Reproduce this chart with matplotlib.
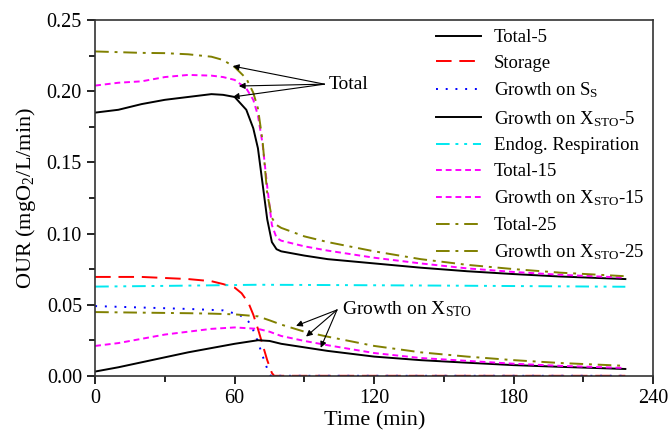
import numpy as np
import matplotlib.pyplot as plt
from matplotlib.ticker import MultipleLocator, FormatStrFormatter

plt.rcParams["font.family"] = ["Liberation Serif", "DejaVu Serif"]
plt.rcParams["mathtext.fontset"] = "custom"
plt.rcParams["mathtext.rm"] = "Liberation Serif"
plt.rcParams["mathtext.it"] = "Liberation Serif:italic"

# time grid for the total curves (min)
t_tot = [0, 10, 20, 30, 40, 50, 55, 60, 65, 68, 70, 72, 74, 76, 78, 80,
         90, 100, 120, 140, 160, 180, 200, 228]
total_5 = [0.185, 0.187, 0.191, 0.194, 0.196, 0.198, 0.1975, 0.196, 0.187,
           0.174, 0.160, 0.135, 0.110, 0.094, 0.089, 0.0875, 0.0845, 0.082,
           0.079, 0.076, 0.0735, 0.0715, 0.0698, 0.068]
total_15 = [0.204, 0.206, 0.207, 0.210, 0.2115, 0.211, 0.210, 0.208, 0.202,
            0.194, 0.183, 0.163, 0.133, 0.106, 0.097, 0.095, 0.091, 0.088,
            0.083, 0.079, 0.0755, 0.073, 0.071, 0.069]
total_25 = [0.228, 0.2275, 0.227, 0.2268, 0.226, 0.2243, 0.222, 0.217, 0.209,
            0.199, 0.188, 0.165, 0.128, 0.111, 0.106, 0.104, 0.098, 0.094,
            0.0875, 0.082, 0.078, 0.075, 0.0725, 0.070]

# growth on X_STO
t_gro = [0, 10, 20, 30, 40, 50, 60, 70, 75, 80, 90, 100, 120, 140, 160, 180,
         200, 228]
gxsto_5 = [0.003, 0.006, 0.0095, 0.013, 0.0165, 0.0195, 0.0225, 0.025,
           0.0245, 0.0225, 0.020, 0.0175, 0.0135, 0.011, 0.0092, 0.0075,
           0.0063, 0.0048]
gxsto_15 = [0.021, 0.023, 0.026, 0.029, 0.031, 0.033, 0.034, 0.033, 0.031,
            0.028, 0.0245, 0.0215, 0.016, 0.0125, 0.0105, 0.0085, 0.007,
            0.0055]
gxsto_25 = [0.0448, 0.0446, 0.0444, 0.0442, 0.044, 0.0437, 0.0432, 0.0418,
            0.039, 0.036, 0.031, 0.0275, 0.021, 0.0165, 0.0135, 0.011, 0.009,
            0.007]

t_sto = [0, 20, 40, 50, 55, 60, 63, 66, 68, 70, 72, 74, 76, 77, 100, 150, 228]
storage = [0.0695, 0.0695, 0.068, 0.0665, 0.0645, 0.062, 0.058, 0.051, 0.043,
           0.033, 0.022, 0.011, 0.002, 0.0, 0.0, 0.0, 0.0]

t_ss = [0, 20, 40, 55, 62, 66, 68, 70, 72, 74, 75.5, 100, 228]
growth_ss = [0.049, 0.048, 0.047, 0.046, 0.043, 0.038, 0.032, 0.024, 0.014,
             0.005, 0.0, 0.0, 0.0]

t_end = [0, 30, 60, 70, 100, 150, 228]
endog = [0.0627, 0.0632, 0.0638, 0.064, 0.0638, 0.0634, 0.0626]

fig = plt.figure(figsize=(6.7, 4.38), dpi=100)
ax = fig.add_axes([0.142, 0.142, 0.833, 0.812])

olive = "#808000"
lw = 1.4
ax.plot(t_tot, total_5, color="black", lw=lw, label="Total-5")
ax.plot(t_sto, storage, color="red", lw=lw, dashes=(8, 4), label="Storage")
ax.plot(t_ss, growth_ss, color="blue", lw=lw, dashes=(1, 4),
        label=r"Growth on S$_\mathrm{S}$")
ax.plot(t_gro, gxsto_5, color="black", lw=lw,
        label=r"Growth on X$_\mathrm{STO}$-5")
ax.plot(t_end, endog, color="#00e8f0", lw=lw, dashes=(7, 3, 1.5, 3, 1.5, 3),
        label="Endog. Respiration")
ax.plot(t_tot, total_15, color="magenta", lw=lw, dashes=(3, 2),
        label="Total-15")
ax.plot(t_gro, gxsto_15, color="magenta", lw=lw, dashes=(3, 2),
        label=r"Growth on X$_\mathrm{STO}$-15")
ax.plot(t_tot, total_25, color=olive, lw=lw, dashes=(7, 3, 1.5, 3),
        label="Total-25")
ax.plot(t_gro, gxsto_25, color=olive, lw=lw, dashes=(7, 3, 1.5, 3),
        label=r"Growth on X$_\mathrm{STO}$-25")

# annotations
arrow = dict(arrowstyle="-|>", color="black", lw=0.8, mutation_scale=9,
             shrinkA=0, shrinkB=0)
for hx, hy in [(59.2, 0.2177), (61.8, 0.2037), (59.2, 0.196)]:
    ax.annotate("", xy=(hx, hy), xytext=(98.6, 0.205), arrowprops=arrow)
ax.text(100.5, 0.205, "Total", fontsize=14, va="center", ha="left")

for hx, hy in [(86.4, 0.0351), (90.7, 0.0276), (97.0, 0.0197)]:
    ax.annotate("", xy=(hx, hy), xytext=(104, 0.0463), arrowprops=arrow)
ax.text(106, 0.047, r"Growth on X$_\mathrm{STO}$", fontsize=14,
        va="center", ha="left")

ax.set_xlim(0, 240)
ax.set_ylim(0, 0.25)
ax.xaxis.set_major_locator(MultipleLocator(60))
ax.xaxis.set_minor_locator(MultipleLocator(30))
ax.yaxis.set_major_locator(MultipleLocator(0.05))
ax.yaxis.set_minor_locator(MultipleLocator(0.025))
ax.yaxis.set_major_formatter(FormatStrFormatter("%.2f"))
ax.tick_params(which="both", direction="out", labelsize=14.5, width=1.2)
ax.tick_params(which="major", length=6)
ax.tick_params(which="minor", length=4)
for s in ax.spines.values():
    s.set_linewidth(1.2)
    s.set_color("#333333")

ax.set_xlabel("Time (min)", fontsize=16, labelpad=2)
ax.set_ylabel(r"OUR (mgO$_2$/L/min)", fontsize=16, labelpad=6)

ax.legend(loc="upper left", bbox_to_anchor=(0.61, 0.975), frameon=False,
          fontsize=13.5, handlelength=2.4, handletextpad=0.7,
          labelspacing=0.46, borderpad=0, borderaxespad=0)

fig.savefig("out.png", dpi=100)
